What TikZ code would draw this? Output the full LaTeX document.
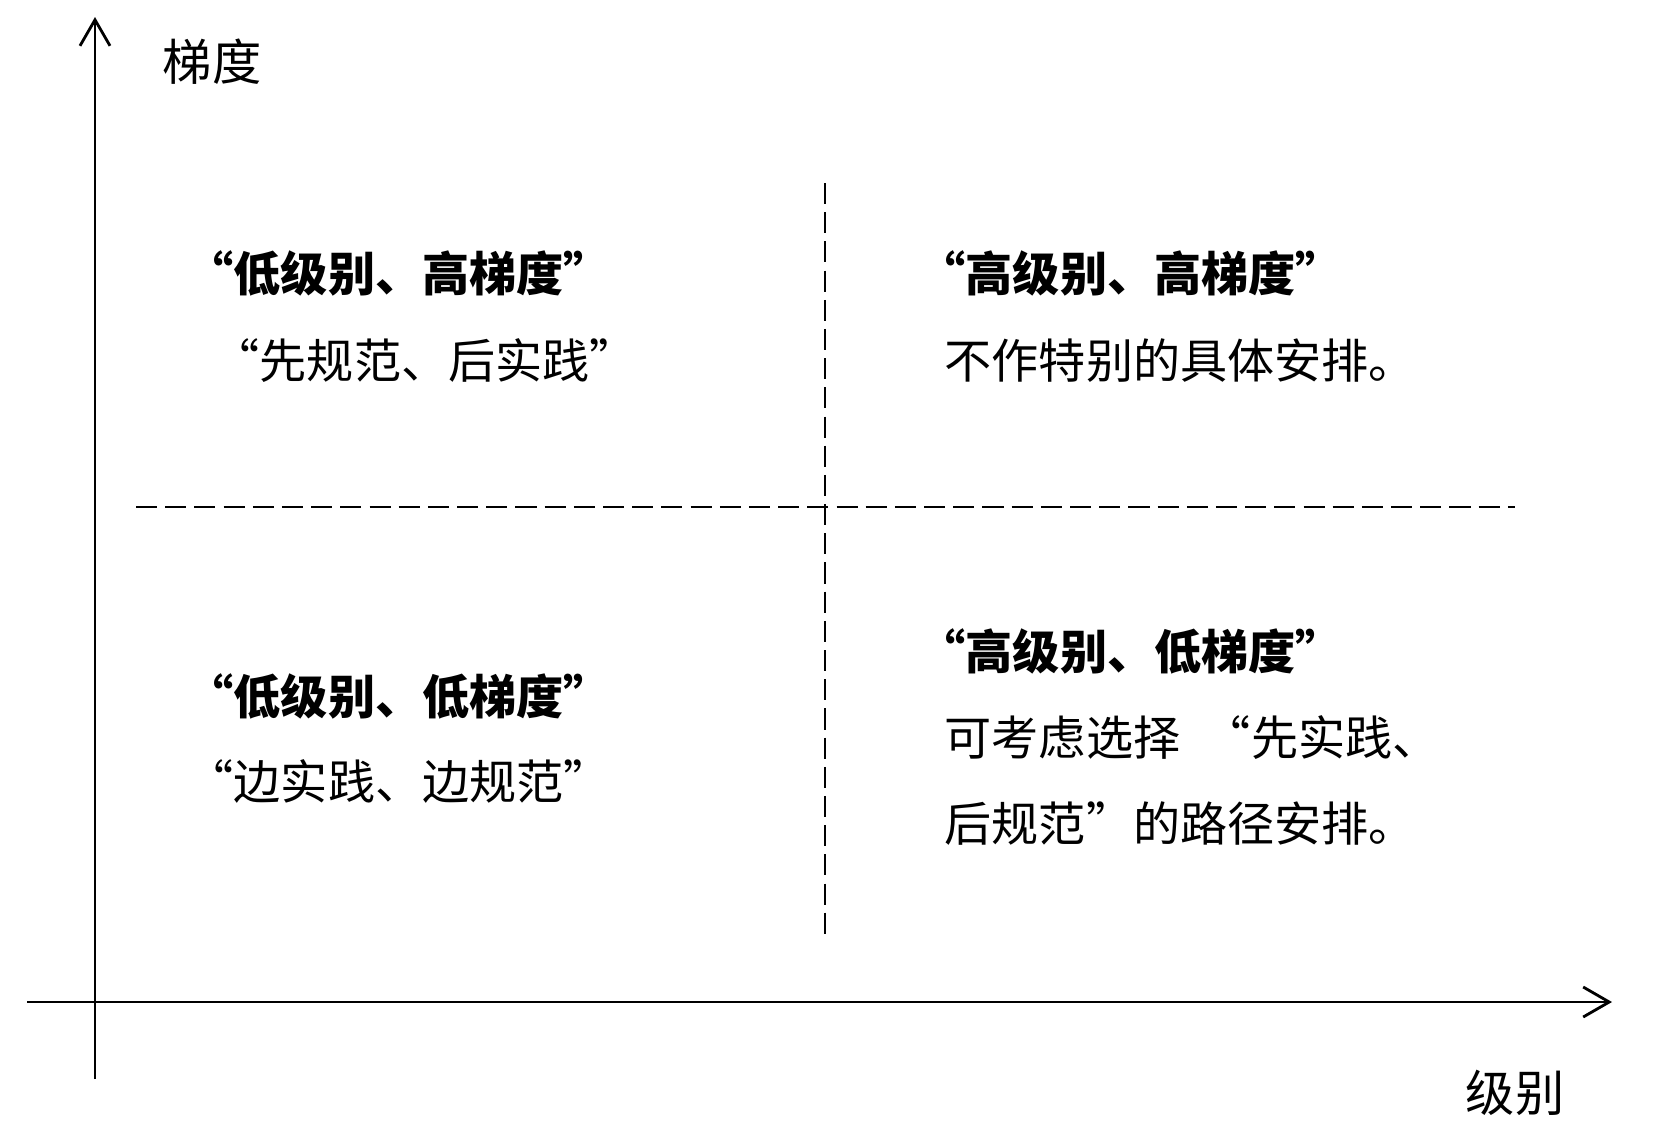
\documentclass[tikz,border=0pt]{standalone}
\usepackage{fontspec}
\setmainfont{Noto Sans CJK SC}
\usetikzlibrary{arrows.meta, positioning}

\begin{document}
\begin{tikzpicture}[
    x=0.01cm, y=-0.01cm,
    axis/.style={line width=0.8pt, -{Straight Barb[length=0.26cm, width=0.3cm]}},
    divider/.style={line width=0.8pt, dash pattern=on 6pt off 2.3pt},
    txt/.style={font=\fontsize{13.4pt}{16pt}\selectfont, inner sep=0pt, anchor=west,
                text height=0.8em, text depth=0.2em},
    head/.style={txt, font=\fontsize{13.4pt}{16pt}\selectfont\bfseries},
    axlbl/.style={font=\fontsize{14pt}{16pt}\selectfont, inner sep=0pt},
]
    \useasboundingbox (0,0) rectangle (1667,1142);

    % --- axes ---
    \coordinate (yfoot) at (95,1079);
    \coordinate (ytip)  at (95,17);
    \coordinate (xfoot) at (27,1002);
    \coordinate (xtip)  at (1612,1002);
    \draw[axis] (yfoot) -- (ytip);
    \draw[axis] (xfoot) -- (xtip);
    \node[axlbl] (ylbl) at (212,62)   {梯度};
    \node[axlbl] (xlbl) at (1515,1093) {级别};

    % --- quadrant dividers ---
    \coordinate (vtop) at (825,183);
    \coordinate (vbot) at (825,935);
    \coordinate (hlft) at (136,507);
    \coordinate (hrgt) at (1515,507);
    \draw[divider] (vtop) -- (vbot);
    \draw[divider] (hlft) -- (hrgt);

    % --- top left ---
    \node[head] (tlH) at (186,281) {“低级别、高梯度”};
    \node[txt]  (tlB) [below=0.87cm of tlH.west, anchor=west, xshift=0.26cm] {“先规范、后实践”};

    % --- top right ---
    \node[head] (trH) at (918,281) {“高级别、高梯度”};
    \node[txt]  (trB) [below=0.87cm of trH.west, anchor=west, xshift=0.26cm] {不作特别的具体安排。};

    % --- bottom left ---
    \node[head] (blH) at (186,704) {“低级别、低梯度”};
    \node[txt]  (blB) [below=0.85cm of blH.west, anchor=west] {“边实践、边规范”};

    % --- bottom right ---
    \node[head] (brH)  at (918,659) {“高级别、低梯度”};
    \node[txt]  (brB1) [below=0.86cm of brH.west, anchor=west, xshift=0.26cm]  {可考虑选择\hspace{0.5em}“先实践、};
    \node[txt]  (brB2) [below=0.86cm of brB1.west, anchor=west] {后规范”的路径安排。};
\end{tikzpicture}
\end{document}
